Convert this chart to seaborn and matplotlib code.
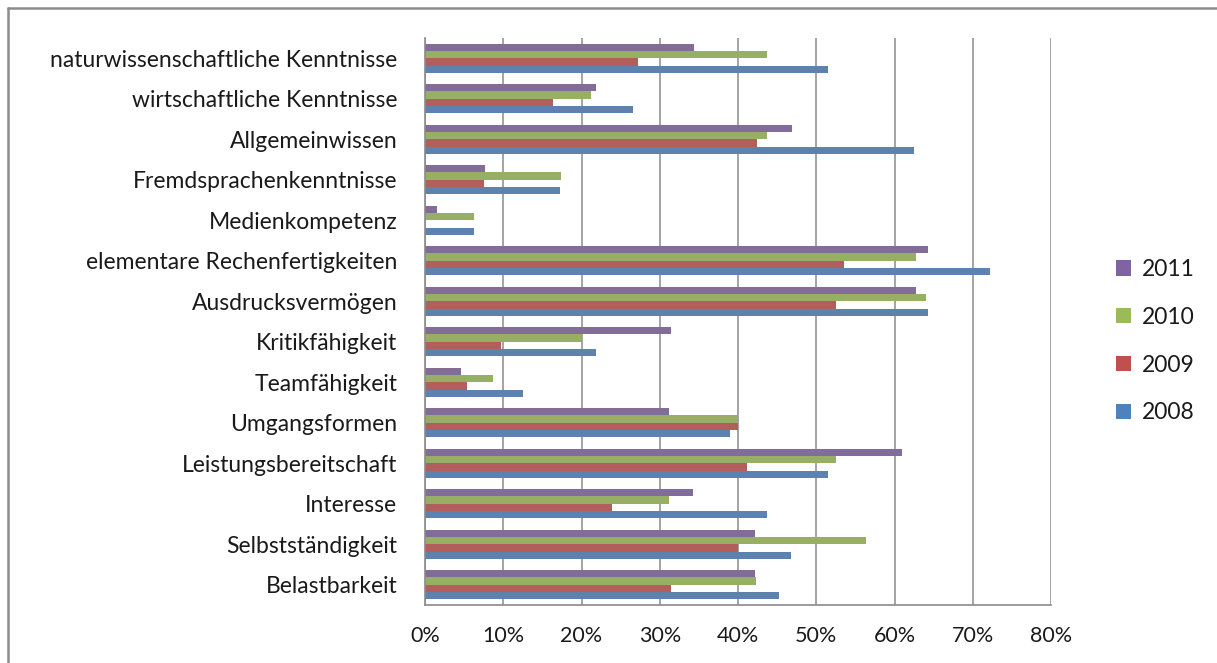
import numpy as np
import pandas as pd
import matplotlib
matplotlib.use("Agg")
import matplotlib.pyplot as plt
from matplotlib.lines import Line2D
from matplotlib.patches import Patch
import seaborn as sns

# Kompetenzen (von oben nach unten)
categories = [
    "naturwissenschaftliche Kenntnisse",
    "wirtschaftliche Kenntnisse",
    "Allgemeinwissen",
    "Fremdsprachenkenntnisse",
    "Medienkompetenz",
    "elementare Rechenfertigkeiten",
    "Ausdrucksvermögen",
    "Kritikfähigkeit",
    "Teamfähigkeit",
    "Umgangsformen",
    "Leistungsbereitschaft",
    "Interesse",
    "Selbstständigkeit",
    "Belastbarkeit",
]

# Anteile in Prozent je Jahrgang
values_2011 = [34.4, 21.8, 46.9, 7.7, 1.5, 64.3, 62.8, 31.4, 4.6, 31.2, 60.9, 34.3, 42.2, 42.2]
values_2010 = [43.7, 21.2, 43.7, 17.4, 6.2, 62.8, 64.0, 20.0, 8.7, 40.0, 52.5, 31.2, 56.3, 42.3]
values_2009 = [27.2, 16.3, 42.4, 7.6, 0.0, 53.5, 52.5, 9.7, 5.4, 40.0, 41.2, 23.9, 40.0, 31.4]
values_2008 = [51.5, 26.6, 62.5, 17.2, 6.2, 72.2, 64.3, 21.9, 12.5, 39.0, 51.5, 43.7, 46.8, 45.3]

years = ["2011", "2010", "2009", "2008"]
series = [values_2011, values_2010, values_2009, values_2008]
colors = ["#8064A2", "#9BBB59", "#C0504D", "#4F81BD"]

xticks = [0, 10, 20, 30, 40, 50, 60, 70, 80]
xtick_labels = ["0%", "10%", "20%", "30%", "40%", "50%", "60%", "70%", "80%"]

df = pd.DataFrame({
    "Kompetenz": np.tile(categories, len(years)),
    "Jahr": np.repeat(years, len(categories)),
    "Anteil": np.concatenate(series),
})

sns.set_theme(style="white")
plt.rcParams["font.family"] = ["Lato", "DejaVu Sans"]

W, H = 1217, 663
fig = plt.figure(figsize=(W / 100, H / 100), dpi=100)
ax = fig.add_axes([425 / W, 1 - 605 / H, (1051 - 425) / W, (605 - 38) / H])

sns.barplot(
    data=df, y="Kompetenz", x="Anteil", hue="Jahr",
    order=categories, hue_order=years, palette=colors,
    orient="h", width=0.72, gap=0, linewidth=0, ax=ax, legend=False,
    errorbar=None,
)

grid_color = "#8a8a8a"
text_color = "#1a1a1a"
ax.set_xlim(0, 80)
ax.set_ylim(len(categories) - 0.5, -0.5)
ax.set_xticks(xticks)
ax.set_xticklabels(xtick_labels, fontsize=15.5, color=text_color)
ax.set_xlabel("")
ax.set_ylabel("")
ax.tick_params(axis="y", which="major", length=0, pad=20, labelsize=16.5, labelcolor=text_color)
ax.set_yticks(np.arange(-0.5, len(categories) + 0.5, 1), minor=True)
ax.tick_params(axis="y", which="minor", length=7, color=grid_color, width=1.2, direction="out")
ax.tick_params(axis="x", which="major", length=7, color=grid_color, width=1.2, direction="out", pad=8)
ax.xaxis.grid(True, color=grid_color, linewidth=1.1)
ax.set_axisbelow(True)
for side in ["top", "right"]:
    ax.spines[side].set_visible(False)
for side in ["left", "bottom"]:
    ax.spines[side].set_color(grid_color)
    ax.spines[side].set_linewidth(1.2)

handles = [Patch(facecolor=c, edgecolor="none") for c in colors]
leg = fig.legend(
    handles, years, loc="upper left", bbox_to_anchor=(1116 / W, 1 - 259 / H),
    frameon=False, fontsize=16.5, handlelength=0.65, handleheight=0.65,
    handletextpad=0.5, labelspacing=1.17, borderaxespad=0, borderpad=0,
)
for t in leg.get_texts():
    t.set_color(text_color)

# Rahmen des Diagrammbereichs
frame_color = "#8c8c8c"
fig.add_artist(Line2D([8 / W, 8 / W], [0, 1 - 8 / H], color=frame_color, linewidth=1.8,
                      transform=fig.transFigure))
fig.add_artist(Line2D([8 / W, 1], [1 - 8 / H, 1 - 8 / H], color=frame_color, linewidth=1.8,
                      transform=fig.transFigure))

fig.savefig("out.png", dpi=100)
